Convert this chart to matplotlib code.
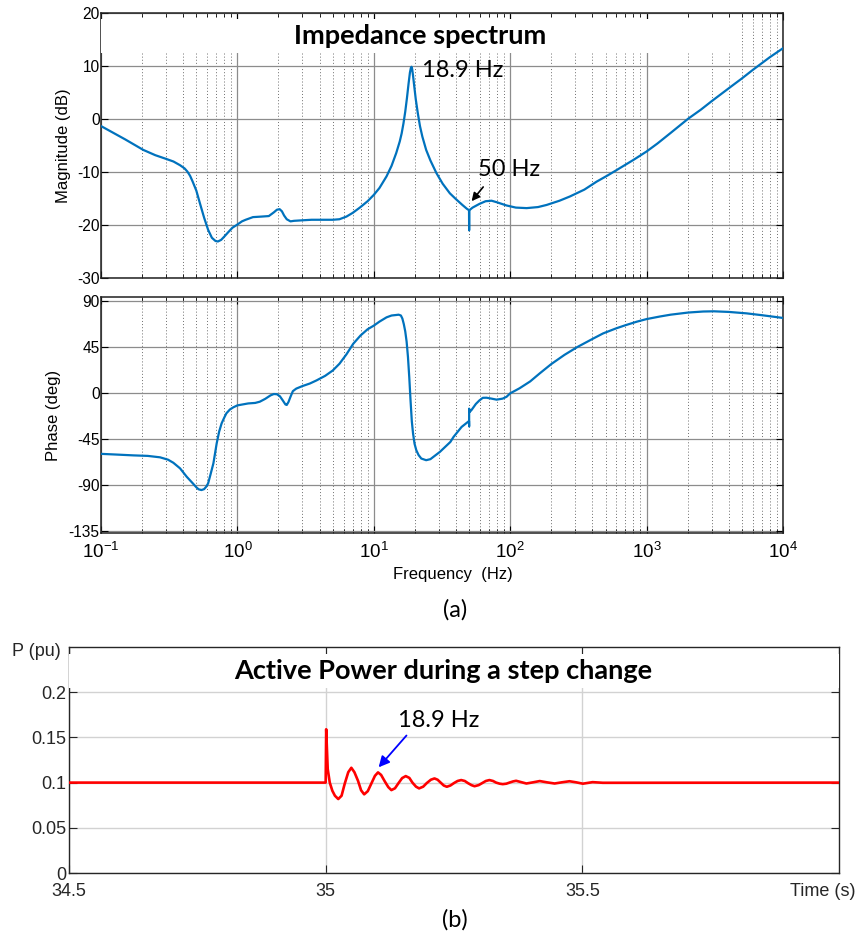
import numpy as np
import matplotlib.pyplot as plt
from matplotlib.patches import Rectangle
from matplotlib.ticker import LogLocator, NullFormatter

plt.rcParams['font.family'] = ['Liberation Sans', 'DejaVu Sans']
plt.rcParams['mathtext.fontset'] = 'custom'
plt.rcParams['mathtext.rm'] = 'Liberation Sans'
plt.rcParams['mathtext.it'] = 'Liberation Sans:italic'
plt.rcParams['mathtext.bf'] = 'Liberation Sans:bold'
plt.rcParams['axes.unicode_minus'] = False

# --- impedance spectrum ---
mag_freq = [0.1, 0.15, 0.204, 0.25, 0.3, 0.34, 0.38, 0.41, 0.43, 0.45, 0.47, 0.5, 0.53, 0.57, 0.61, 0.65,
            0.69, 0.72, 0.76, 0.8, 0.86, 0.92, 1.0, 1.08, 1.15, 1.3, 1.5, 1.7, 1.85, 1.95, 2.04,
            2.12, 2.2, 2.3, 2.45, 2.6, 3.0, 3.5, 5.0, 5.6, 6.3, 7.0, 7.9, 9.0, 10, 11, 12.4,
            13.5, 14.6, 15.5, 16.0, 16.5, 17.0, 17.5, 18.0, 18.4, 18.7, 18.9, 19.1, 19.4, 19.8,
            20.3, 21.0, 21.8, 22.7, 24.2, 26, 28.8, 32, 36.1, 40, 44.6, 48, 49.9, 50.0, 50.1,
            53, 59.5, 66, 73, 80, 94, 110, 132, 160, 185, 230, 274, 350, 430, 520, 604, 700,
            800, 1000, 1200, 1500, 2020, 2500, 3000, 4080, 5000, 6000, 8000, 10000]
mag_db = [-1.3, -3.8, -5.8, -6.8, -7.5, -8.0, -8.7, -9.3, -9.9, -10.7, -11.8, -13.5, -15.8, -18.6, -20.9, -22.4,
          -23.0, -23.1, -22.8, -22.2, -21.3, -20.5, -19.9, -19.3, -19.0, -18.5, -18.4, -18.3, -17.6, -17.1, -17.0,
          -17.4, -18.2, -18.9, -19.3, -19.2, -19.1, -19.0, -19.0, -18.9, -18.4, -17.7, -16.7, -15.5, -14.3, -13.0, -10.8,
          -8.8, -6.4, -4.2, -2.7, -0.8, 1.4, 4.0, 6.8, 8.8, 9.7, 9.9, 9.5, 8.2, 6.2,
          3.8, 1.2, -1.3, -3.3, -5.8, -7.8, -10.2, -12.2, -14.0, -15.1, -16.2, -16.9, -17.2, -21.0, -17.2,
          -16.7, -16.0, -15.5, -15.4, -15.7, -16.3, -16.7, -16.8, -16.6, -16.2, -15.4, -14.6, -13.3, -11.8, -10.6, -9.6, -8.6,
          -7.7, -6.1, -4.6, -2.6, 0.1, 1.8, 3.4, 6.0, 7.7, 9.3, 11.7, 13.4]

ph_freq = [0.1, 0.13, 0.173, 0.22, 0.271, 0.31, 0.339, 0.38, 0.425, 0.47, 0.5, 0.52, 0.545, 0.57,
           0.59, 0.61, 0.635, 0.667, 0.705, 0.735, 0.766, 0.8, 0.83, 0.88, 0.933, 1.0, 1.2, 1.35,
           1.46, 1.6, 1.75, 1.85, 1.95, 2.05, 2.15, 2.25, 2.3, 2.37, 2.45, 2.55, 2.7, 3.0, 3.4,
           3.8, 4.4, 5.0, 5.6, 6.3, 7.06, 8, 9, 10, 11, 12.4, 13.5, 14.6, 15.2, 15.8, 16.2, 16.6,
           17.0, 17.4, 17.8, 18.2, 18.6, 19.0, 19.4, 19.9, 20.5, 21.3, 22.3, 24.2, 26, 30.5, 36.4,
           38.4, 44, 49.9, 50.0, 50.0, 50.3, 52, 56, 59.5, 63, 67, 73, 79.5, 88, 94, 100, 117,
           140, 165, 200, 250, 309, 400, 480, 600, 700, 850, 1000, 1250, 1500, 2020, 2600, 3110,
           4000, 5400, 7000, 10000]
ph_deg = [-59.8, -60.5, -61.3, -61.8, -63.2, -65.5, -68.5, -74.0, -82.2, -88.5, -92.5, -94.5, -95.2, -94.3,
          -92.0, -88.7, -80.0, -69.0, -49.5, -38.0, -30.0, -24.5, -20.2, -16.5, -14.3, -12.4, -10.5, -10.0,
          -8.8, -6.0, -2.6, -1.3, -1.5, -3.5, -7.5, -11.5, -12.0, -9.0, -4.0, 1.5, 4.0, 6.5, 9.0,
          12.0, 16.5, 21.7, 28.3, 37.5, 47.8, 56.0, 62.0, 65.6, 69.5, 73.7, 75.5, 76.0, 76.3, 75.5, 72.5, 67.0,
          60.0, 50.0, 35.0, 15.0, -8.0, -28.0, -40.0, -50.0, -56.3, -61.0, -64.4, -66.0, -65.0, -57.9, -48.2,
          -43.3, -33.5, -27.7, -33.0, -15.6, -19.0, -17.0, -11.0, -7.5, -5.0, -4.9, -5.8, -6.8, -5.8, -4.0, -0.6, 4.3,
          11.0, 19.0, 28.0, 37.0, 44.5, 52.5, 58.0, 63.0, 66.0, 69.5, 72.0, 74.5, 76.3, 78.4, 79.4, 79.6,
          79.0, 77.6, 75.8, 73.1]

# --- active power time response ---
t_s = [34.5, 35.0, 35.001, 35.004, 35.008, 35.013, 35.018, 35.0245, 35.031, 35.037, 35.044,
       35.050, 35.056, 35.063, 35.069, 35.075, 35.082, 35.089, 35.096, 35.102, 35.108, 35.115,
       35.122, 35.128, 35.135, 35.142, 35.149, 35.156, 35.163, 35.169, 35.176, 35.182, 35.190,
       35.197, 35.205, 35.212, 35.218, 35.224, 35.230, 35.236, 35.243, 35.250, 35.257, 35.264,
       35.271, 35.277, 35.284, 35.290, 35.298, 35.305, 35.312, 35.319, 35.326, 35.332, 35.339,
       35.345, 35.352, 35.358, 35.365, 35.371, 35.381, 35.391, 35.404, 35.417, 35.431, 35.446,
       35.460, 35.475, 35.488, 35.501, 35.52, 35.54, 36.0]
p_pu = [0.1, 0.1, 0.159, 0.115, 0.1, 0.091, 0.0855, 0.0818, 0.0855, 0.0985, 0.1115,
        0.1164, 0.1115, 0.102, 0.0915, 0.087, 0.0905, 0.099, 0.1075, 0.1113, 0.1085, 0.1015,
        0.095, 0.0917, 0.0937, 0.0995, 0.1050, 0.1072, 0.1052, 0.1, 0.0955, 0.0936, 0.0955,
        0.0995, 0.1032, 0.1046, 0.1032, 0.1, 0.0968, 0.0954, 0.0968, 0.0995, 0.1018, 0.1028,
        0.1018, 0.0995, 0.0972, 0.096, 0.0972, 0.0995, 0.1018, 0.1028, 0.1018, 0.1, 0.0988,
        0.0983, 0.0988, 0.1, 0.1013, 0.102, 0.1005, 0.099, 0.1003, 0.1017, 0.1003, 0.099,
        0.1003, 0.1015, 0.1003, 0.0988, 0.1005, 0.0998, 0.1]

blue = '#0072BD'
W, H = 858, 943
cal = ['Lato', 'DejaVu Sans']

fig = plt.figure(figsize=(W / 100, H / 100), dpi=100)


def px_axes(l, t, r, b):
    return fig.add_axes([l / W, 1 - b / H, (r - l) / W, (b - t) / H])


def bode_style(ax):
    ax.set_xscale('log')
    ax.set_xlim(0.1, 1e4)
    ax.xaxis.set_major_locator(LogLocator(base=10, numticks=10))
    ax.xaxis.set_minor_locator(LogLocator(base=10, subs=np.arange(2, 10), numticks=10))
    ax.xaxis.set_minor_formatter(NullFormatter())
    ax.tick_params(which='both', direction='in', top=True, right=True, colors='black', labelsize=11.2)
    ax.tick_params(which='major', length=5, width=0.8)
    ax.tick_params(which='minor', length=3, width=0.6)
    ax.tick_params(axis='y', pad=1)
    ax.tick_params(axis='x', pad=6, labelsize=13.5)
    ax.grid(True, which='major', color='#8c8c8c', lw=0.9, ls='-')
    ax.grid(True, which='minor', axis='x', color='#6e6e6e', lw=0.7, ls=(0, (1, 2.2)))
    for s in ax.spines.values():
        s.set_linewidth(1.1)
        s.set_color('#202020')


# magnitude
ax1 = px_axes(101, 13.3, 783, 278)
bode_style(ax1)
ax1.set_ylim(-30, 20)
ax1.set_yticks([-30, -20, -10, 0, 10, 20])
ax1.xaxis.set_major_formatter(NullFormatter())
ax1.plot(mag_freq, mag_db, color=blue, lw=1.6, zorder=4)
ax1.add_patch(Rectangle((0, (278 - 53) / 264.7), (738 - 101) / 682, (53 - 19.5) / 264.7 + 0.001,
                        transform=ax1.transAxes, facecolor='white', edgecolor='none', zorder=2.6))
ax1.set_ylabel('Magnitude (dB)', fontsize=12)
ax1.yaxis.set_label_coords((71 - 101) / 682, 0.5)
ax1.text(0.468, (278 - 44.3) / 264.7, 'Impedance spectrum', transform=ax1.transAxes,
         ha='center', va='baseline', fontsize=19.5, fontweight='bold', family=cal, zorder=5)
ax1.text(22.4, 8.0, '18.9 Hz', ha='left', va='baseline', fontsize=17, family=cal, zorder=5)
ax1.text(57.8, -10.8, '50 Hz', ha='left', va='baseline', fontsize=17, family=cal, zorder=5)
ax1.annotate('', xy=(50.6, -15.9), xytext=(65.3, -12.4),
             arrowprops=dict(arrowstyle='-|>', color='black', lw=1.2, mutation_scale=12), zorder=5)

# phase
ax2 = px_axes(101, 297.3, 783, 533.3)
bode_style(ax2)
ax2.set_ylim(-137.5, 93.3)
ax2.set_yticks([-135, -90, -45, 0, 45, 90])
ax2.plot(ph_freq, ph_deg, color=blue, lw=1.6, zorder=4)
ax2.set_ylabel('Phase (deg)', fontsize=12)
ax2.yaxis.set_label_coords((61 - 101) / 682, 0.5)

fig.text(453 / W, 1 - 575 / H, 'Frequency  (Hz)', ha='center', va='center', fontsize=12)
fig.text(455 / W, 1 - 610 / H, '(a)', ha='center', va='center', fontsize=17, family=cal)

# active power
ax3 = px_axes(69, 647, 839, 873)
ax3.plot(t_s, p_pu, color='#ff0000', lw=1.9, zorder=4)
ax3.set_xlim(34.5, 36.0)
ax3.set_ylim(0, 0.25)
ax3.set_xticks([34.5, 35, 35.5])
ax3.set_xticklabels(['34.5', '35', '35.5'])
ax3.set_yticks([0, 0.05, 0.1, 0.15, 0.2])
ax3.set_yticklabels(['0', '0.05', '0.1', '0.15', '0.2'])
ax3.tick_params(direction='in', top=True, right=True, length=6, width=0.8, colors='#262626',
                labelsize=13, pad=2)
ax3.tick_params(axis='x', pad=7.5)
ax3.grid(True, color='#d2d2d2', lw=1.0)
for s in ax3.spines.values():
    s.set_color('#262626')
    s.set_linewidth(1.0)
ax3.add_patch(Rectangle((0, (873 - 688) / 226), 1, (688 - 654) / 226,
                        transform=ax3.transAxes, facecolor='white', edgecolor='none', zorder=2.6))
ax3.text((443 - 69) / 770, (873 - 679.3) / 226, 'Active Power during a step change',
         transform=ax3.transAxes, ha='center', va='baseline', fontsize=19.5, fontweight='bold',
         family=cal, zorder=5)
ax3.text(35.140, 0.161, '18.9 Hz', ha='left', va='baseline', fontsize=17, family=cal, zorder=5)
ax3.annotate('', xy=(35.0996, 0.1146), xytext=(35.161, 0.1544),
             arrowprops=dict(arrowstyle='-|>', color='#0000ff', lw=1.3, mutation_scale=16), zorder=5)

fig.text(12 / W, 1 - 651 / H, 'P (pu)', ha='left', va='center', fontsize=13, color='#262626')
fig.text(855 / W, 1 - 891 / H, 'Time (s)', ha='right', va='center', fontsize=13, color='#262626')
fig.text(455 / W, 1 - 920 / H, '(b)', ha='center', va='center', fontsize=17, family=cal)

fig.savefig('out.png', dpi=100)
